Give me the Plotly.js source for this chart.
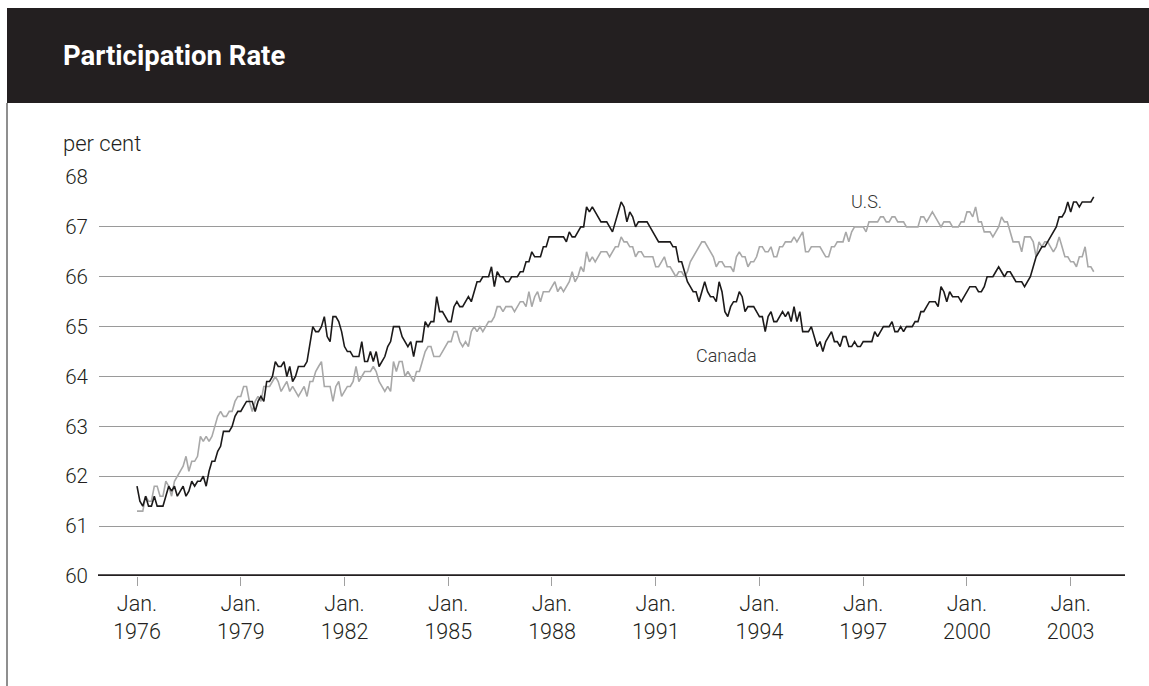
<!DOCTYPE html>
<html>
<head>
<meta charset="utf-8">
<script src="https://cdn.plot.ly/plotly-3.0.1.min.js"></script>
<style>html,body{margin:0;padding:0;background:#fff;}#chart{width:1149px;height:686px;}</style>
</head>
<body>
<div id="chart"></div>
<script>
// ---- data (monthly, starting Jan. 1976) ----
const startYear = 1976;
const tickYears = [1976, 1979, 1982, 1985, 1988, 1991, 1994, 1997, 2000, 2003];
const canada = [
61.8,61.5,61.4,61.6,61.4,61.4,61.6,61.4,61.4,61.4,61.6,61.8,
61.7,61.8,61.6,61.7,61.8,61.6,61.7,61.9,61.8,61.9,61.9,62.0,
61.8,62.1,62.3,62.3,62.5,62.6,62.9,62.9,62.9,63.0,63.2,63.3,
63.3,63.4,63.5,63.5,63.5,63.3,63.5,63.6,63.5,63.9,63.9,64.0,
64.3,64.2,64.2,64.3,64.0,64.2,63.9,64.0,64.2,64.2,64.2,64.3,
64.7,65.0,64.9,64.9,65.0,65.2,64.8,64.7,65.2,65.2,65.1,64.9,
64.6,64.5,64.5,64.4,64.4,64.4,64.7,64.3,64.3,64.5,64.3,64.5,
64.2,64.3,64.4,64.6,64.7,65.0,65.0,65.0,64.8,64.7,64.6,64.7,
64.4,64.7,64.7,64.7,65.1,65.0,65.1,65.1,65.6,65.3,65.3,65.2,
65.1,65.1,65.4,65.5,65.4,65.4,65.5,65.6,65.5,65.7,65.9,65.9,
66.0,66.0,66.0,66.2,65.8,66.1,66.0,66.0,65.9,65.9,66.0,66.0,
66.0,66.1,66.1,66.3,66.3,66.5,66.4,66.4,66.4,66.6,66.6,66.8,
66.8,66.8,66.8,66.8,66.8,66.7,66.9,66.8,66.8,66.9,67.0,67.0,
67.4,67.3,67.4,67.3,67.2,67.1,67.1,67.1,67.0,66.9,67.1,67.3,
67.5,67.4,67.1,67.3,67.2,67.0,67.1,67.1,67.1,67.1,67.0,66.9,
66.8,66.7,66.7,66.7,66.7,66.7,66.6,66.6,66.3,66.3,66.1,65.9,
65.8,65.7,65.7,65.5,65.7,65.9,65.7,65.6,65.6,65.5,65.9,65.7,
65.3,65.2,65.4,65.5,65.5,65.7,65.6,65.3,65.4,65.4,65.4,65.3,
65.2,65.2,64.9,65.2,65.3,65.1,65.1,65.2,65.3,65.2,65.3,65.1,
65.4,65.1,65.3,64.9,64.9,64.9,65.0,64.8,64.6,64.7,64.5,64.7,
64.8,64.9,64.7,64.7,64.6,64.8,64.8,64.6,64.6,64.7,64.6,64.6,
64.7,64.7,64.7,64.7,64.9,64.8,64.9,65.0,65.0,65.0,65.1,64.9,
64.9,65.0,64.9,65.0,65.0,65.0,65.1,65.1,65.3,65.3,65.4,65.5,
65.5,65.5,65.4,65.8,65.7,65.5,65.7,65.6,65.6,65.6,65.5,65.6,
65.7,65.8,65.8,65.8,65.7,65.7,65.8,66.0,66.0,66.0,66.1,66.2,
66.1,66.0,66.1,66.1,66.0,65.9,65.9,65.9,65.8,65.9,66.0,66.2,
66.4,66.5,66.6,66.6,66.7,66.8,66.9,67.0,67.2,67.2,67.3,67.5,
67.3,67.5,67.5,67.4,67.5,67.5,67.5,67.5,67.6
];
const us = [
61.3,61.3,61.3,61.6,61.5,61.5,61.8,61.8,61.6,61.6,61.9,61.8,
61.6,61.9,62.0,62.1,62.2,62.4,62.1,62.3,62.3,62.4,62.8,62.7,
62.8,62.7,62.8,63.0,63.2,63.3,63.2,63.2,63.3,63.3,63.5,63.6,
63.6,63.8,63.8,63.5,63.3,63.5,63.6,63.5,63.8,63.8,63.8,63.9,
64.0,63.9,63.7,63.8,63.9,63.7,63.8,63.7,63.6,63.7,63.8,63.6,
63.9,63.9,64.1,64.2,64.3,63.8,63.8,63.8,63.5,63.8,63.9,63.6,
63.7,63.8,63.8,63.9,64.2,63.9,64.0,64.1,64.1,64.1,64.2,64.1,
63.9,63.8,63.7,63.8,63.7,64.3,64.1,64.3,64.3,64.0,64.1,64.0,
63.9,64.1,64.1,64.3,64.5,64.6,64.6,64.4,64.4,64.4,64.5,64.6,
64.7,64.7,64.9,64.9,64.7,64.6,64.7,64.6,64.9,65.0,64.9,65.0,
64.9,65.0,65.1,65.1,65.2,65.4,65.4,65.3,65.4,65.4,65.4,65.3,
65.4,65.5,65.5,65.4,65.7,65.4,65.6,65.7,65.5,65.7,65.7,65.7,
65.8,65.9,65.7,65.8,65.7,65.8,65.9,66.1,65.9,66.0,66.2,66.1,
66.5,66.3,66.4,66.3,66.4,66.5,66.5,66.5,66.4,66.5,66.6,66.6,
66.8,66.7,66.7,66.6,66.6,66.4,66.5,66.5,66.4,66.4,66.4,66.4,
66.2,66.2,66.3,66.4,66.2,66.2,66.1,66.0,66.1,66.1,66.0,66.1,
66.3,66.4,66.5,66.6,66.7,66.7,66.6,66.5,66.4,66.2,66.3,66.3,
66.2,66.2,66.2,66.1,66.4,66.5,66.4,66.4,66.2,66.3,66.3,66.4,
66.6,66.6,66.5,66.5,66.6,66.4,66.4,66.6,66.6,66.7,66.7,66.7,
66.8,66.7,66.8,66.9,66.5,66.5,66.6,66.6,66.6,66.6,66.5,66.4,
66.4,66.6,66.6,66.7,66.7,66.7,66.9,66.7,66.9,67.0,67.0,67.0,
67.0,66.9,67.1,67.1,67.1,67.1,67.2,67.2,67.1,67.1,67.2,67.2,
67.1,67.1,67.1,67.0,67.0,67.0,67.0,67.0,67.2,67.2,67.1,67.2,
67.3,67.2,67.1,67.0,67.1,67.1,67.1,67.0,67.0,67.0,67.1,67.1,
67.3,67.3,67.2,67.4,67.1,67.1,66.9,66.9,66.9,66.8,66.9,67.0,
67.2,67.1,67.1,66.9,66.7,66.7,66.7,66.5,66.8,66.8,66.8,66.7,
66.4,66.7,66.6,66.7,66.7,66.6,66.5,66.6,66.8,66.6,66.4,66.4,
66.3,66.3,66.2,66.4,66.4,66.6,66.2,66.2,66.1
];
const seriesNames = ['Canada', 'U.S.'];
const titleText = 'Participation Rate';
const unitText = 'per cent';

// ---- layout helpers ----
const W = 1149, H = 686;
const M = {l: 99, r: 25, t: 176, b: 110};
const PW = W - M.l - M.r, PH = H - M.t - M.b;
const px = x => (x - M.l) / PW;
const py = y => (H - M.b - y) / PH;

const monthIdx = arr => arr.map((_, i) => i);
const FONT = 'Roboto, "Open Sans", sans-serif';

const traces = [
  {x: monthIdx(us), y: us, name: seriesNames[1], mode: 'lines', type: 'scatter',
   line: {color: '#a8a8a8', width: 1.6}, hoverinfo: 'skip'},
  {x: monthIdx(canada), y: canada, name: seriesNames[0], mode: 'lines', type: 'scatter',
   line: {color: '#1c1a1a', width: 1.6}, hoverinfo: 'skip'}
];

const layout = {
  width: W, height: H,
  margin: M,
  paper_bgcolor: '#ffffff', plot_bgcolor: '#ffffff',
  showlegend: false,
  font: {family: FONT, color: '#231f20', size: 20, weight: 300},
  xaxis: {
    range: [-13.19, 342.5],
    tickvals: tickYears.map(y => (y - startYear) * 12),
    ticktext: tickYears.map(y => 'Jan.<br>' + y),
    ticks: 'outside', ticklen: 9, tickwidth: 1, tickcolor: '#a0a0a0',
    showgrid: false, zeroline: false, showline: false,
    tickfont: {family: FONT, size: 21.5, color: '#231f20', weight: 300},
    ticklabelstandoff: -1,
    fixedrange: true
  },
  yaxis: {
    range: [60, 68.02],
    tickvals: [60, 61, 62, 63, 64, 65, 66, 67, 68],
    ticks: '', showgrid: true, gridcolor: '#9a9a9a', gridwidth: 1,
    zeroline: false, showline: false,
    tickfont: {family: FONT, size: 20.5, color: '#231f20', weight: 300},
    ticklabelstandoff: 10,
    fixedrange: true
  },
  shapes: [
    {type: 'rect', xref: 'paper', yref: 'paper', x0: px(7), x1: px(1149), y0: py(103), y1: py(8),
     fillcolor: '#231f20', line: {width: 0}, layer: 'above'},
    {type: 'line', xref: 'paper', yref: 'paper', x0: px(7), x1: px(7), y0: py(686), y1: py(103),
     line: {color: '#6a6a6a', width: 1.5}},
    {type: 'line', xref: 'paper', yref: 'y', x0: px(98), x1: px(1125), y0: 60, y1: 60,
     line: {color: '#231f20', width: 3.5}, layer: 'above'}
  ],
  annotations: [
    {text: '<b>' + titleText + '</b>', xref: 'paper', yref: 'paper', x: px(61), y: py(55),
     xanchor: 'left', yanchor: 'middle', showarrow: false,
     font: {family: FONT, size: 27.5, color: '#ffffff', weight: 700}},
    {text: unitText, xref: 'paper', yref: 'paper', x: px(61), y: py(143),
     xanchor: 'left', yanchor: 'middle', showarrow: false,
     font: {family: FONT, size: 22, color: '#231f20', weight: 300}},
    {text: seriesNames[1], xref: 'paper', yref: 'paper', x: px(866), y: py(201),
     xanchor: 'center', yanchor: 'middle', showarrow: false,
     font: {family: FONT, size: 18, color: '#333333', weight: 300}},
    {text: seriesNames[0], xref: 'paper', yref: 'paper', x: px(726), y: py(355),
     xanchor: 'center', yanchor: 'middle', showarrow: false,
     font: {family: FONT, size: 18, color: '#333333', weight: 300}}
  ]
};

Plotly.newPlot('chart', traces, layout, {staticPlot: true, displayModeBar: false});
</script>
</body>
</html>
